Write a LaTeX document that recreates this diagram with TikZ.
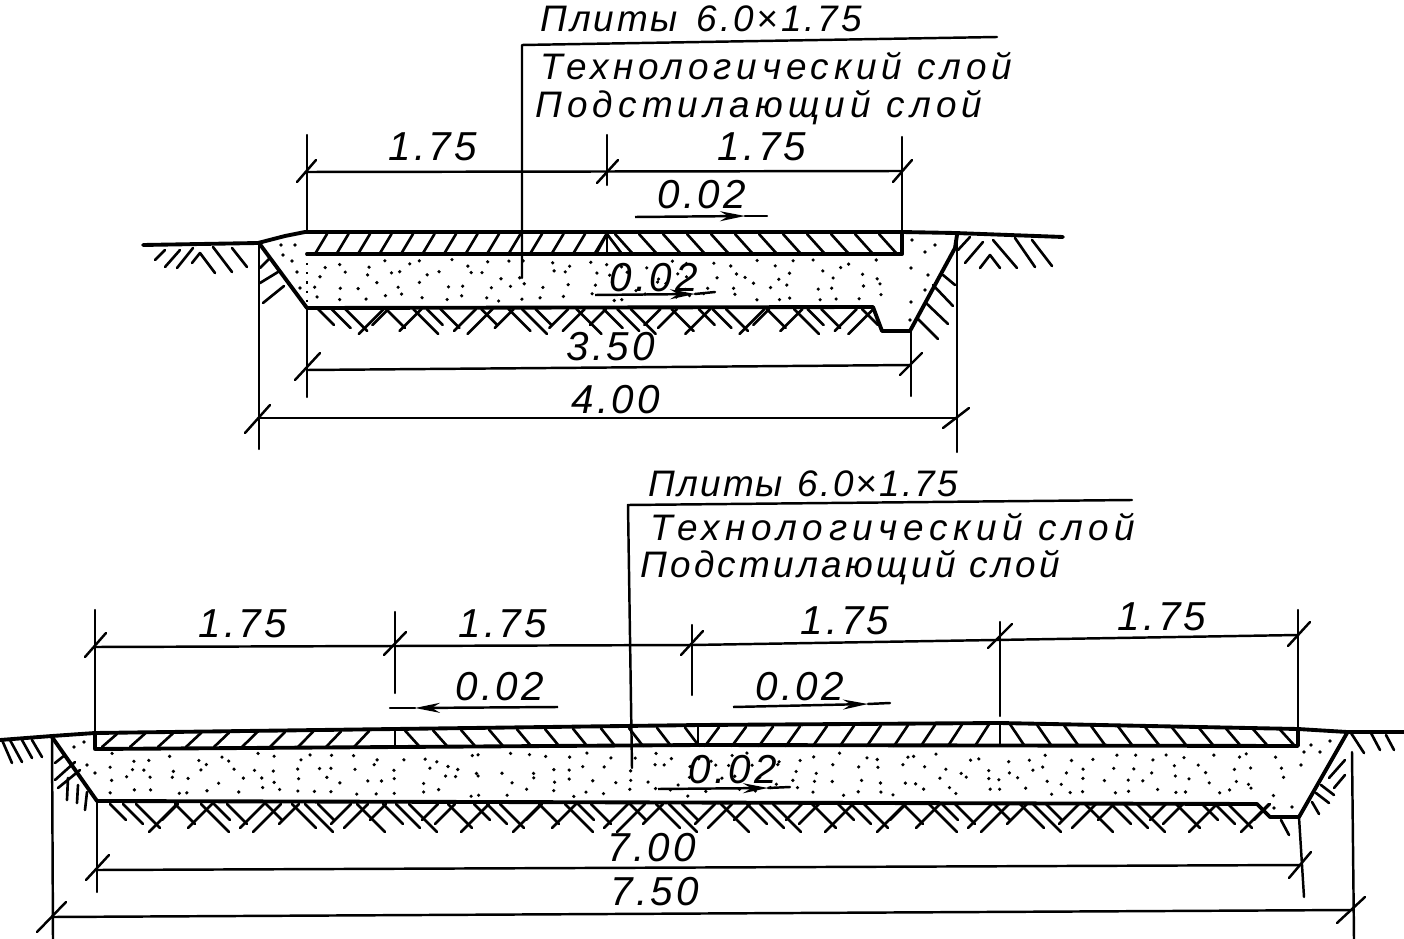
\documentclass[tikz,border=0pt]{standalone}
\usepackage{fontspec}
\setmainfont{Liberation Sans}
\newfontfamily\sketchfont[LetterSpace=8]{Liberation Sans}
\usetikzlibrary{arrows.meta,positioning}

\begin{document}
\begin{tikzpicture}[
    x=0.02cm, y=-0.02cm,
    thickline/.style={line width=2.2pt, line cap=round, line join=round},
    thinline/.style={line width=1.4pt, line cap=round, line join=round},
    hatchline/.style={line width=1.5pt, line cap=round},
    sandedge/.style={line width=1.2pt, dash pattern=on 1.2pt off 4pt},
    slopearrow/.style={line width=1.4pt, -{Stealth[length=5mm, width=2mm]}},
    dimtext/.style={font=\sketchfont\itshape\fontsize{23}{23}\selectfont, inner sep=0pt},
    notetext/.style={font=\sketchfont\itshape\fontsize{21}{21}\selectfont, inner sep=0pt, anchor=west}
]
\useasboundingbox (0,0) rectangle (1404,939);

% Upper section: sand
\pgfmathsetseed{11}
\foreach \i in {0,...,27} {
    \foreach \j in {0,...,3} {
        \pgfmathsetmacro\px{314+\i*20.5+rnd*17}
        \pgfmathsetmacro\py{259+\j*11.5+rnd*9}
        \fill (\px,\py) circle (1.8);
    }
}
\foreach \px/\py in {281/245, 295/245, 283/255, 292/261, 297/272, 300/288, 912/240, 925/252, 935/245, 928/275, 911/268, 925/290, 911/302, 910/320}
    \fill (\px,\py) circle (1.8);

% Upper section: outline
\draw[thickline] (143,245) -- (258,243) -- (285,236) -- (305,232) -- (902,232) -- (955,233) -- (1063,237);
\draw[thickline] (307,254) -- (902,254) -- (902,232);
\draw[thickline] (259,243) -- (307,308) -- (873,307) -- (882,331) -- (910,331) -- (955,248) -- (957,235);
\draw[sandedge] (307,254) -- (307,308);
\draw[thinline] (607,232) -- (607,254);

% Upper section: plate hatching
\foreach \x in {315,336.5,...,600}
    \draw[hatchline] (\x,254) -- (\x+12,234);
\foreach \x in {615,639,...,880}
    \draw[hatchline] (\x,234) -- (\x+18,254);
\draw[hatchline] (607,234) -- (622,254);
\draw[hatchline] (607,234) -- (596,254);

% Upper section: ground hatching
\foreach \i in {0,...,40} {
    \pgfmathsetmacro\px{318+\i*13.6}
    \pgfmathtruncatemacro\m{mod(\i,7)}
    \pgfmathsetmacro\len{16+3*mod(\i,4)}
    \ifnum\m=3 \def\flip{1}\else\ifnum\m=4 \def\flip{1}\else\ifnum\m=6 \def\flip{1}\else\def\flip{0}\fi\fi\fi
    \ifnum\flip=1
        \draw[hatchline] (\px+\len,309) -- (\px,309+\len);
    \else
        \draw[hatchline] (\px,309) -- (\px+\len,309+\len);
    \fi
}
\foreach \xa/\ya/\xb/\yb in {155/260/165/250, 165/267/180/250, 177/268/193/248, 192/263/200/253, 200/253/215/273, 213/247/232/272, 232/248/247/267,
    260/268/270/258, 260/283/278/272, 263/303/284/286,
    943/275/955/285, 933/285/953/306, 925/302/948/324, 917/318/938/339,
    958/250/970/237, 965/263/983/242, 980/268/990/255, 990/255/1000/268, 993/240/1017/268, 1015/238/1035/267, 1032/240/1052/266}
    \draw[hatchline] (\xa,\ya) -- (\xb,\yb);

% Upper section: extension and dimension lines
\draw[thinline] (307,135) -- (307,232);
\draw[thinline] (307,308) -- (307,397);
\draw[thinline] (607,135) -- (607,185);
\draw[thinline] (902,137) -- (902,232);
\draw[thinline] (259,243) -- (259,449);
\draw[thinline] (911,331) -- (911,396);
\draw[thinline] (957,235) -- (957,452);
\draw[thinline] (522,278) -- (522,45) -- (997,37);
\draw[thinline] (306,172) -- (902,171);
\draw[thinline] (307,370) -- (911,365);
\draw[thinline] (259,418) -- (957,418);
\foreach \xa/\ya/\xb/\yb in {297/182/316/160, 597/183/618/160, 893/182/912/160, 295/380/320/353, 900/375/922/353, 245/433/270/405, 943/428/969/408}
    \draw[thinline] (\xa,\ya) -- (\xb,\yb);

% Upper section: slope arrows
\draw[slopearrow] (635,217) -- (745,216);
\draw[thinline] (745,216) -- (767,216);
\draw[slopearrow] (595,295) -- (695,294);
\draw[thinline] (695,294) -- (715,292);

% Upper section: labels
\node[notetext] (plateA) at (540,19) {\addfontfeature{LetterSpace=8}Плиты\hspace{0.5em}6.0×1.75};
\node[notetext] (techA) at (540,66) {\addfontfeature{LetterSpace=13}Технологический слой};
\node[notetext] (baseA) at (535,108) {\addfontfeature{LetterSpace=14}Подстилающий слой};
\node[dimtext] (dimAa) at (433,147) {1.75};
\node[dimtext] (dimAb) at (762,147) {1.75};
\node[dimtext] (slopeAa) at (702,195) {0.02};
\node[dimtext] (slopeAb) at (654,278) {0.02};
\node[dimtext] (dimAc) at (611,347) {3.50};
\node[dimtext] (dimAd) at (616,400) {4.00};

% Lower section: sand
\foreach \i in {0,...,56} {
    \foreach \j in {0,...,3} {
        \pgfmathsetmacro\px{102+\i*20.8+rnd*17}
        \pgfmathsetmacro\py{753+\j*11.5+rnd*9}
        \fill (\px,\py) circle (1.8);
    }
}
\foreach \px/\py in {74/747, 84/742, 87/765, 95/773, 1304/752, 1311/745, 1320/752, 1330/741, 1301/765, 1274/808, 1292/807}
    \fill (\px,\py) circle (1.8);

% Lower section: outline
\draw[thickline] (0,740) -- (52,736) -- (95,733) -- (395,729) -- (700,725) -- (1000,723) -- (1298,729) -- (1347,732) -- (1404,732);
\draw[thickline] (95,733) -- (95,749) -- (700,745) -- (1298,746) -- (1298,729);
\draw[thickline] (52,737) -- (97,801) -- (1257,804) -- (1270,817) -- (1299,817) -- (1347,733);
\draw[thinline] (395,729) -- (395,748);
\draw[thinline] (698,725) -- (698,745);
\draw[thinline] (1000,723) -- (1000,745);

% Lower section: plate hatching
\foreach \x in {102,130,...,380} {
    \pgfmathsetmacro\yt{733-(\x-95)*10/905}
    \draw[hatchline] (\x,747) -- (\x+15,\yt+1);
}
\foreach \x in {405,433,...,685} {
    \pgfmathsetmacro\yt{733-(\x-95)*10/905}
    \draw[hatchline] (\x,\yt+1) -- (\x+14,746);
}
\foreach \x in {705,732,...,985} {
    \pgfmathsetmacro\yt{733-(\x-95)*10/905}
    \draw[hatchline] (\x,746) -- (\x+14,\yt+1);
}
\foreach \x in {1010,1037,...,1280} {
    \pgfmathsetmacro\yt{723+(\x-1000)*6/298}
    \draw[hatchline] (\x,\yt+1) -- (\x+14,745);
}

% Lower section: ground hatching
\foreach \i in {0,...,88} {
    \pgfmathsetmacro\px{110+\i*13}
    \pgfmathtruncatemacro\m{mod(\i,7)}
    \pgfmathsetmacro\len{16+4*mod(\i,4)}
    \ifnum\m=3 \def\flip{1}\else\ifnum\m=4 \def\flip{1}\else\ifnum\m=6 \def\flip{1}\else\def\flip{0}\fi\fi\fi
    \ifnum\flip=1
        \draw[hatchline] (\px+\len,804) -- (\px,804+\len);
    \else
        \draw[hatchline] (\px,804) -- (\px+\len,804+\len);
    \fi
}
\foreach \xa/\ya/\xb/\yb in {2/740/12/763, 10/740/22/762, 22/740/32/758, 32/740/42/757,
    55/763/65/755, 55/780/75/762, 58/788/80/770, 67/800/68/778, 77/803/78/785, 85/810/87/792,
    1345/760/1329/778, 1345/775/1334/788, 1321/785/1334/795, 1316/793/1329/803, 1312/802/1319/814, 1281/820/1289/835,
    1351/733/1364/753, 1371/733/1380/750, 1386/735/1394/750}
    \draw[hatchline] (\xa,\ya) -- (\xb,\yb);

% Lower section: extension and dimension lines
\draw[thinline] (95,610) -- (95,733);
\draw[thinline] (395,612) -- (395,693);
\draw[thinline] (692,625) -- (692,695);
\draw[thinline] (1000,622) -- (1000,716);
\draw[thinline] (1298,610) -- (1298,729);
\draw[thinline] (52,737) -- (53,939);
\draw[thinline] (97,801) -- (97,892);
\draw[thinline] (1299,817) -- (1304,897);
\draw[thinline] (1352,752) -- (1354,939);
\draw[thinline] (632,768) -- (628,505) -- (1132,500);
\draw[thinline] (95,647) -- (692,645) -- (1298,635);
\draw[thinline] (97,870) -- (1302,865);
\draw[thinline] (53,917) -- (1354,910);
\foreach \xa/\ya/\xb/\yb in {85/657/106/633, 384/655/406/632, 681/655/703/631, 988/648/1012/624, 1288/646/1310/622, 86/880/109/855, 1289/878/1311/852, 37/932/66/902, 1337/923/1365/897}
    \draw[thinline] (\xa,\ya) -- (\xb,\yb);

% Lower section: slope arrows
\draw[slopearrow] (558,707) -- (415,708);
\draw[thinline] (415,708) -- (390,708);
\draw[slopearrow] (733,707) -- (868,704);
\draw[thinline] (868,704) -- (890,703);
\draw[slopearrow] (658,789) -- (768,788);
\draw[thinline] (768,788) -- (790,787);

% Lower section: labels
\node[notetext] (plateB) at (648,484) {\addfontfeature{LetterSpace=6}Плиты\hspace{0.4em}6.0×1.75};
\node[notetext] (techB) at (650,527) {\addfontfeature{LetterSpace=15}Технологический слой};
\node[notetext] (baseB) at (640,568) {\addfontfeature{LetterSpace=9}Подстилающий слой};
\node[dimtext] (dimBa) at (243,624) {1.75};
\node[dimtext] (dimBb) at (503,624) {1.75};
\node[dimtext] (dimBc) at (845,621) {1.75};
\node[dimtext] (dimBd) at (1162,617) {1.75};
\node[dimtext] (slopeBa) at (500,687) {0.02};
\node[dimtext] (slopeBb) at (800,687) {0.02};
\node[dimtext] (slopeBc) at (733,770) {0.02};
\node[dimtext] (dimBe) at (652,848) {7.00};
\node[dimtext] (dimBf) at (655,892) {7.50};

\end{tikzpicture}
\end{document}
